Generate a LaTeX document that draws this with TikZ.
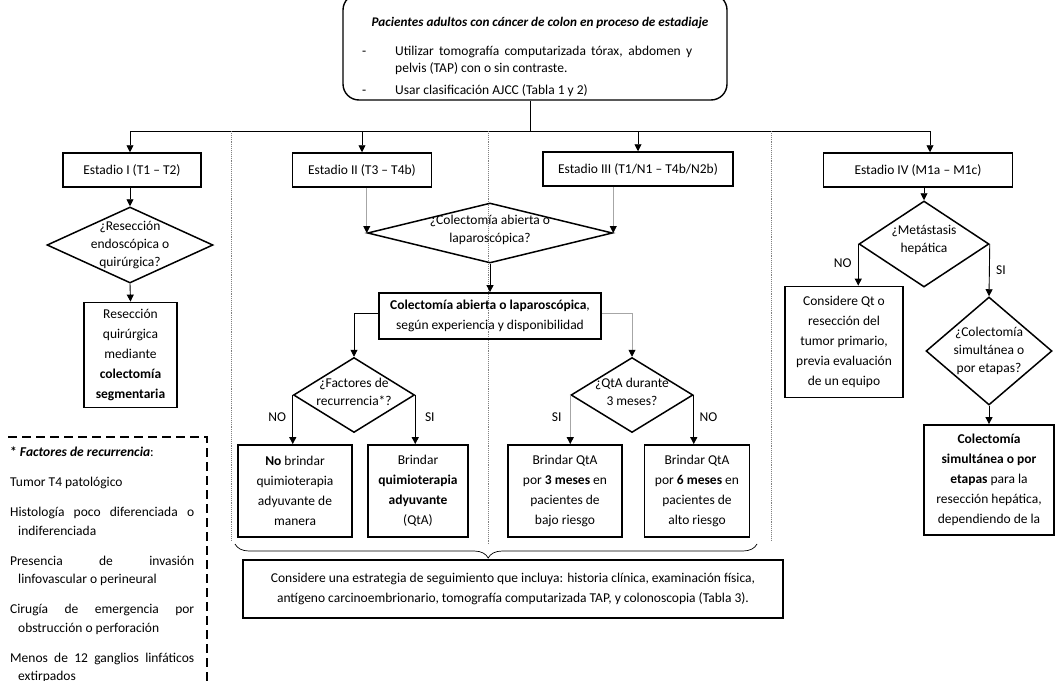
\documentclass[tikz,border=0pt]{standalone}
\usepackage{fontspec}
\setmainfont{Carlito}
\usetikzlibrary{arrows.meta,positioning,shapes.geometric,decorations.pathreplacing}

\newcommand\bodyfont{\fontsize{13.5}{20}\selectfont}
\newcommand\askfont{\fontsize{13.5}{18}\selectfont}

\tikzset{
  box/.style={draw, line width=1.8pt, align=center, inner sep=1pt},
  stagebox/.style={draw, line width=1.5pt, minimum height=34pt, inner sep=0pt},
  decision/.style={diamond, draw, line width=1.5pt, inner sep=0pt},
  qtext/.style={align=center, inner sep=0pt, font=\askfont},
  line/.style={line width=0.9pt},
  arr/.style={line, -{Triangle[length=7pt,width=7pt]}},
  garr/.style={arr, draw=gray!70, -{Triangle[length=7pt,width=7pt,color=black]}},
  sep/.style={draw=gray, densely dotted, line width=0.9pt},
  legendline/.style={line width=1.8pt, dash pattern=on 9pt off 5pt}
}

\begin{document}
\begin{tikzpicture}[x=1pt, y=-1pt, font=\bodyfont]
\useasboundingbox (0,0) rectangle (1056,680);

% patients box
\node[draw, line width=1.4pt, rounded corners=16pt, minimum width=384pt, minimum height=106pt] (top) at (535,47) {};
\node[font=\fontsize{13.2}{15}\selectfont\bfseries\itshape] (title) at (540,23) {Pacientes adultos con cáncer de colon en proceso de estadiaje};
\node[anchor=north west, text width=297pt, align=justify, font=\fontsize{13.5}{17}\selectfont, inner sep=0pt] (bullets) at (395,46)
  {\noindent\llap{\makebox[33pt][l]{-}}Utilizar tomografía computarizada tórax, abdomen y\linebreak pelvis (TAP) con o sin contraste.\par\vspace{5pt}
   \noindent\llap{\makebox[33pt][l]{-}}Usar clasificación AJCC (Tabla 1 y 2)};

% stages
\node[stagebox, minimum width=138pt] (s1) at (132,170) {Estadio I (T1 – T2)};
\node[stagebox, minimum width=139pt] (s2) at (362,170) {Estadio II (T3 – T4b)};
\node[stagebox, minimum width=190pt] (s3) at (638,169) {Estadio III (T1/N1 – T4b/N2b)};
\node[stagebox, minimum width=189pt] (s4) at (918,170) {Estadio IV (M1a – M1c)};

\coordinate (tj) at (530,131);
\coordinate (bus1) at (130,131);
\coordinate (bus4) at (930,131);
\draw[line] (top.south -| tj) -- (tj);
\draw[line] (bus1) -- (bus4);
\draw[arr] (bus1) -- (bus1 |- s1.north);
\draw[arr] (s2 |- bus1) -- (s2.north);
\draw[arr] (s3 |- bus1) -- (s3.north);
\draw[arr] (bus4) -- (bus4 |- s4.north);

% separators
\draw[sep] (231,131) -- (231,540);
\draw[sep] (488,131) -- (488,544);
\draw[sep] (771,131) -- (771,540);

% stage I
\node[decision, minimum width=166pt, minimum height=76pt] (d1) at (130,245) {};
\node[qtext] (d1t) at (d1) {¿Resección\\endoscópica o\\quirúrgica?};
\node[box, minimum width=93pt, minimum height=105pt] (r1) at (130.5,355)
  {Resección\\quirúrgica\\mediante\\\textbf{colectomía}\\\textbf{segmentaria}};
\draw[arr] (s1.south -| d1) -- (d1.north);
\draw[arr] (d1.south) -- (r1.north);

% stages II and III
\node[decision, minimum width=245pt, minimum height=60pt] (d2) at (490,233) {};
\node[qtext] (d2t) at (490,230) {¿Colectomía abierta o\\laparoscópica?};
\draw[garr] (s2.south -| d2.west) -- (d2.west);
\draw[garr] (s3.south -| d2.east) -- (d2.east);
\node[box, minimum width=222pt, minimum height=46pt] (c) at (490,316)
  {\textbf{Colectomía abierta o laparoscópica},\\según experiencia y disponibilidad};
\draw[arr] (d2.south) -- (c.north);

\node[decision, minimum width=121pt, minimum height=75pt] (d3) at (354,395) {};
\node[qtext] (d3t) at (354,392) {¿Factores de\\recurrencia*?};
\node[decision, minimum width=122pt, minimum height=75pt] (d4) at (632,395) {};
\node[qtext] (d4t) at (632,392) {¿QtA durante\\3 meses?};
\draw[arr] ([yshift=3pt]c.west) -| (d3.north);
\draw[garr] ([yshift=3pt]c.east) -| (d4.north);

\node[box, minimum width=114pt, minimum height=92pt] (b1) at (295,491)
  {\textbf{No} brindar\\quimioterapia\\adyuvante de\\manera};
\node[box, minimum width=100pt, minimum height=92pt] (b2) at (418,491)
  {Brindar\\\textbf{quimioterapia}\\\textbf{adyuvante}\\(QtA)};
\node[box, minimum width=114pt, minimum height=92pt] (b3) at (565,491)
  {Brindar QtA\\por \textbf{3 meses} en\\pacientes de\\bajo riesgo};
\node[box, minimum width=105pt, minimum height=92pt] (b4) at (697,491)
  {Brindar QtA\\por \textbf{6 meses} en\\pacientes de\\alto riesgo};
\draw[arr] (d3.west) -- (d3.west |- b1.north) node[pos=0.45, left=3pt] {NO};
\draw[arr] (d3.east) -- (d3.east |- b2.north) node[pos=0.45, right=6pt] {SI};
\draw[garr] (d4.west) -- (d4.west |- b3.north) node[pos=0.45, left=5pt] {SI};
\draw[arr] (d4.east) -- (d4.east |- b4.north) node[pos=0.45, right=2pt] {NO};

% follow-up
\draw[decorate, decoration={brace, mirror, amplitude=14pt, aspect=0.485}, line width=0.7pt] (235,544) -- (757,544);
\node[box, minimum width=540pt, minimum height=58pt] (fu) at (513,589)
  {Considere una estrategia de seguimiento que incluya: historia clínica, examinación física,\\antígeno carcinoembrionario, tomografía computarizada TAP, y colonoscopia (Tabla 3).};

% stage IV
\node[decision, minimum width=130pt, minimum height=86pt] (d5) at (924,244) {};
\node[qtext] (d5t) at (924,240) {¿Metástasis\\hepática};
\draw[arr] (s4.south -| d5) -- (d5.north);
\node[box, minimum width=118pt, minimum height=111pt] (cq) at (844,342)
  {Considere Qt o\\resección del\\tumor primario,\\previa evaluación\\de un equipo};
\node[decision, minimum width=126pt, minimum height=108pt] (d6) at (989,351) {};
\node[qtext] (d6t) at (989,351) {¿Colectomía\\simultánea o\\por etapas?};
\node[box, minimum width=130pt, minimum height=110pt] (cs) at (989,480)
  {\textbf{Colectomía}\\\textbf{simultánea o por}\\\textbf{etapas} para la\\resección hepática,\\dependiendo de la};
\draw[arr] (d5.west) -- (d5.west |- cq.north) node[pos=0.45, left=3pt] {NO};
\draw[arr] (d5.east) -- (d6.north) node[pos=0.5, right=3pt] {SI};
\draw[arr] (d6.south) -- (cs.north);

% recurrence factors
\draw[legendline] (8,437) -- (207,437) -- (207,690);
\node[anchor=north west, text width=184pt, align=justify, inner sep=0pt, font=\fontsize{13.5}{18.5}\selectfont] (leg) at (10,447)
  {\setlength{\parskip}{11.5pt}\noindent\textbf{* \textit{Factores de recurrencia}}:\par
   \noindent Tumor T4 patológico\par
   \noindent\hangindent=8pt\hangafter=1 Histología poco diferenciada o\linebreak indiferenciada\par
   \noindent\hangindent=8pt\hangafter=1 Presencia de invasión\linebreak linfovascular o perineural\par
   \noindent\hangindent=8pt\hangafter=1 Cirugía de emergencia por\linebreak obstrucción o perforación\par
   \noindent\hangindent=8pt\hangafter=1 Menos de 12 ganglios linfáticos\linebreak extirpados\par};
\end{tikzpicture}
\end{document}
